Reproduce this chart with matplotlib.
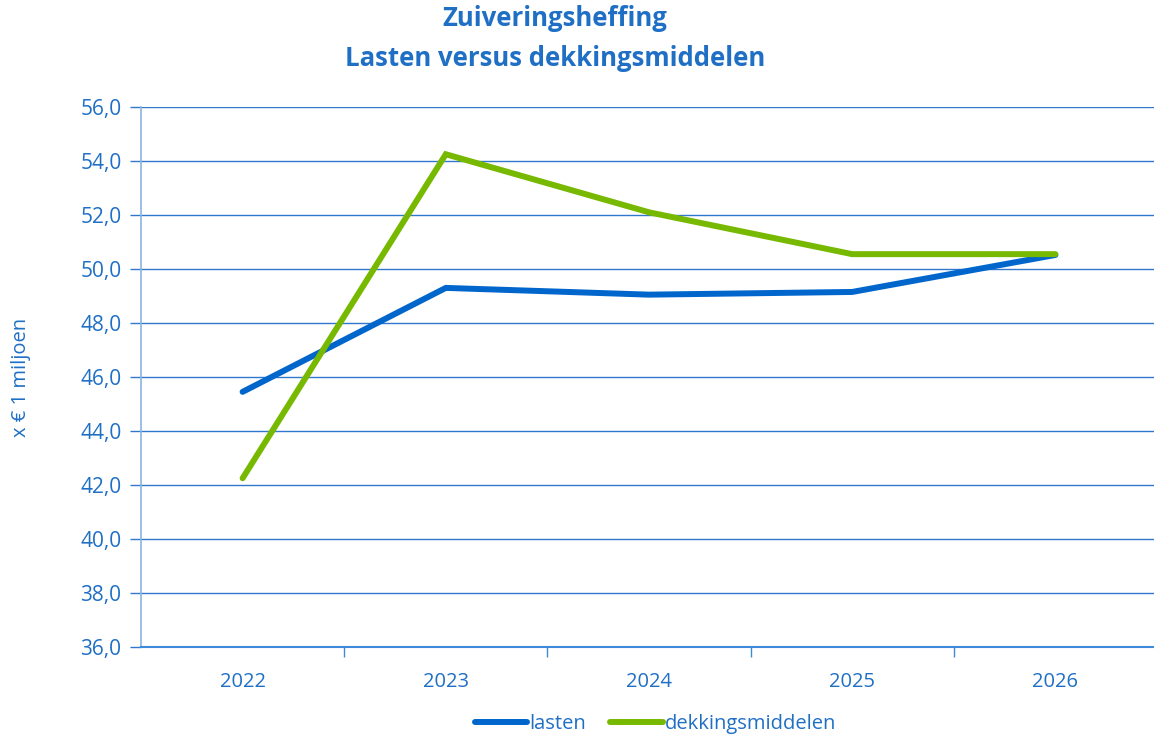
import matplotlib.pyplot as plt
import numpy as np

plt.rcParams["font.family"] = ["Open Sans", "DejaVu Sans"]

years = ["2022", "2023", "2024", "2025", "2026"]
lasten = [45.45, 49.30, 49.05, 49.15, 50.52]
dekkingsmiddelen = [42.25, 54.25, 52.10, 50.55, 50.55]

BLUE = "#0066CC"
GREEN = "#77B900"
TEXT = "#1F6FC5"
GRID = "#2F78CC"

fig = plt.figure(figsize=(11.54, 7.37), dpi=100)
ax = fig.add_axes([141 / 1154, 1 - 647 / 737, (1157 - 141) / 1154, (647 - 107) / 737])

x = np.arange(len(years))
ax.plot(x, lasten, color=BLUE, lw=4.3, solid_capstyle="round", solid_joinstyle="miter", label="lasten")
ax.plot(x, dekkingsmiddelen, color=GREEN, lw=4.3, solid_capstyle="round", solid_joinstyle="miter",
        label="dekkingsmiddelen")

ax.set_xlim(-0.5, len(years) - 0.5)
ax.set_ylim(36, 56)
yt = np.arange(36, 56.1, 2)
ax.set_yticks(yt)
ax.set_yticklabels([f"{v:.1f}".replace(".", ",") for v in yt])
ax.set_xticks(x)
ax.set_xticklabels(years)
ax.set_xticks(np.arange(0.5, len(years) - 0.5, 1), minor=True)

ax.grid(axis="y", color=GRID, lw=1.0)
ax.set_axisbelow(True)
for s in ["top", "right"]:
    ax.spines[s].set_visible(False)
ax.spines["left"].set_color("#8CB4E0")
ax.spines["left"].set_linewidth(1.2)
ax.spines["bottom"].set_color("#3F8AD8")
ax.spines["bottom"].set_linewidth(1.5)

ax.tick_params(axis="y", length=8, direction="out", color=GRID, width=1, labelsize=15, pad=6,
               labelcolor=TEXT)
ax.tick_params(axis="x", which="major", length=0, labelsize=14.5, labelcolor=TEXT, pad=18)
ax.tick_params(axis="x", which="minor", length=7, color="#3F8AD8", width=1)

ax.set_ylabel("x € 1 miljoen", color=TEXT, fontsize=14.5)
ax.yaxis.set_label_coords(-0.108, 0.5)

fig.text(0.481, 0.975, "Zuiveringsheffing", ha="center", va="center", fontsize=18.5, fontweight="bold",
         color=TEXT)
fig.text(0.481, 0.920, "Lasten versus dekkingsmiddelen", ha="center", va="center", fontsize=18.5,
         fontweight="bold", color=TEXT)

fig.legend(loc="center", bbox_to_anchor=(0.568, 0.017), ncol=2, frameon=False, fontsize=14.5,
           handlelength=2.6, handletextpad=0.1, columnspacing=1.2, labelcolor=TEXT)

fig.savefig("out.png", dpi=100)
